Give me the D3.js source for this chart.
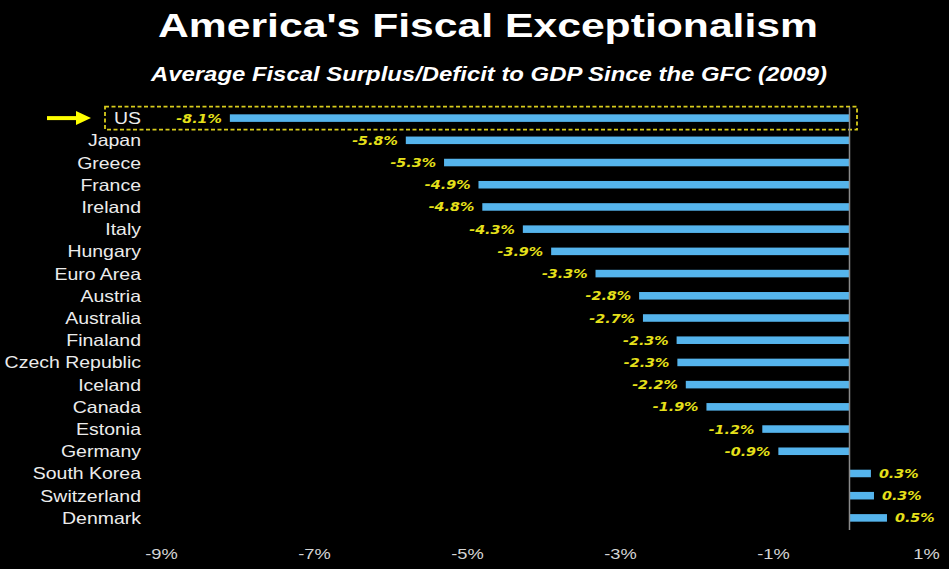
<!DOCTYPE html>
<html><head><meta charset="utf-8">
<script src="https://cdn.jsdelivr.net/npm/d3@7/dist/d3.min.js"></script>
<style>html,body{margin:0;padding:0;background:#000;}svg{display:block;}</style>
</head><body>
<svg id="chart" width="949" height="569"></svg>
<script>
const categories = ["US","Japan","Greece","France","Ireland","Italy","Hungary","Euro Area","Austria","Australia","Finaland","Czech Republic","Iceland","Canada","Estonia","Germany","South Korea","Switzerland","Denmark"];
const values = [-8.1,-5.8,-5.3,-4.85,-4.8,-4.27,-3.9,-3.32,-2.75,-2.7,-2.26,-2.25,-2.14,-1.87,-1.14,-0.93,0.28,0.32,0.49];
const valueLabels = ["-8.1%","-5.8%","-5.3%","-4.9%","-4.8%","-4.3%","-3.9%","-3.3%","-2.8%","-2.7%","-2.3%","-2.3%","-2.2%","-1.9%","-1.2%","-0.9%","0.3%","0.3%","0.5%"];
const tickValues = [-9,-7,-5,-3,-1,1];
const title = "America's Fiscal Exceptionalism";
const subtitle = "Average Fiscal Surplus/Deficit to GDP Since the GFC (2009)";
const highlight = "US";

const svg = d3.select("#chart");
svg.append("rect").attr("width",949).attr("height",569).attr("fill","#000");

const x = d3.scaleLinear().domain([-9,1]).range([161,926]);
const y = d3.scaleBand().domain(categories).range([107,529]).paddingInner(0.66).paddingOuter(0.33);

function stretch(sel, k){
  sel.each(function(){
    const L = this.getComputedTextLength();
    d3.select(this).attr("textLength", L*k).attr("lengthAdjust","spacingAndGlyphs");
  });
}
function fit(sel, w){
  sel.attr("textLength", w).attr("lengthAdjust","spacingAndGlyphs");
}

// Titles
svg.append("text").attr("x",488).attr("y",37).attr("text-anchor","middle")
  .attr("font-family","Liberation Sans, Arial, sans-serif").attr("font-weight","bold")
  .attr("font-size",33).attr("fill","#fff").text(title).call(fit,660);
svg.append("text").attr("x",489).attr("y",81).attr("text-anchor","middle")
  .attr("font-family","Liberation Sans, Arial, sans-serif").attr("font-weight","bold")
  .attr("font-style","italic").attr("font-size",20.5).attr("fill","#fff").text(subtitle).call(fit,676);

// Highlight box
const hb = y(highlight);
svg.append("rect").attr("x",105).attr("y",hb+y.bandwidth()/2-11.5).attr("width",752).attr("height",23)
  .attr("fill","none").attr("stroke","#d8cc1c").attr("stroke-width",1.8).attr("stroke-dasharray","4,2.5");

// Arrow
const ay = hb + y.bandwidth()/2;
svg.append("line").attr("x1",47).attr("x2",78).attr("y1",ay).attr("y2",ay).attr("stroke","#ffff00").attr("stroke-width",4);
svg.append("path").attr("d",`M${76},${ay-7} L${91},${ay} L${76},${ay+7} Z`).attr("fill","#ffff00");

// Bars
svg.append("g").selectAll("rect").data(categories).join("rect")
  .attr("x",(d,i)=>x(Math.min(0,values[i])))
  .attr("width",(d,i)=>Math.abs(x(values[i])-x(0)))
  .attr("y",d=>y(d)).attr("height",y.bandwidth())
  .attr("fill","#55b4ec");

// Zero line
svg.append("line").attr("x1",x(0)).attr("x2",x(0)).attr("y1",107).attr("y2",530)
  .attr("stroke","#8a8a8a").attr("stroke-width",1.5);

// Category labels
svg.append("g").selectAll("text").data(categories).join("text")
  .attr("x",141).attr("y",d=>y(d)+y.bandwidth()/2+6)
  .attr("text-anchor","end").attr("font-family","Liberation Sans, Arial, sans-serif")
  .attr("font-size",16.5).attr("fill","#ececec").text(d=>d).call(stretch,1.18);

// Value labels
svg.append("g").selectAll("text").data(categories).join("text")
  .attr("x",(d,i)=>values[i]<0 ? x(values[i])-8 : x(values[i])+8)
  .attr("y",d=>y(d)+y.bandwidth()/2+4.5)
  .attr("text-anchor",(d,i)=>values[i]<0?"end":"start")
  .attr("font-family","DejaVu Sans, Verdana, sans-serif").attr("font-weight","bold").attr("font-style","italic")
  .attr("font-size",13).attr("fill","#e6e01a").text((d,i)=>valueLabels[i]).call(stretch,1.1);

// X axis
const ax = svg.append("g").attr("transform","translate(0,540)")
  .call(d3.axisBottom(x).tickValues(tickValues).tickFormat(d=>d+"%").tickSize(0).tickPadding(8));
ax.select(".domain").remove();
ax.selectAll("text").attr("font-family","Liberation Sans, Arial, sans-serif").attr("font-size",15.5).attr("fill","#d4d4d4").call(stretch,1.18);
</script>
</body></html>
